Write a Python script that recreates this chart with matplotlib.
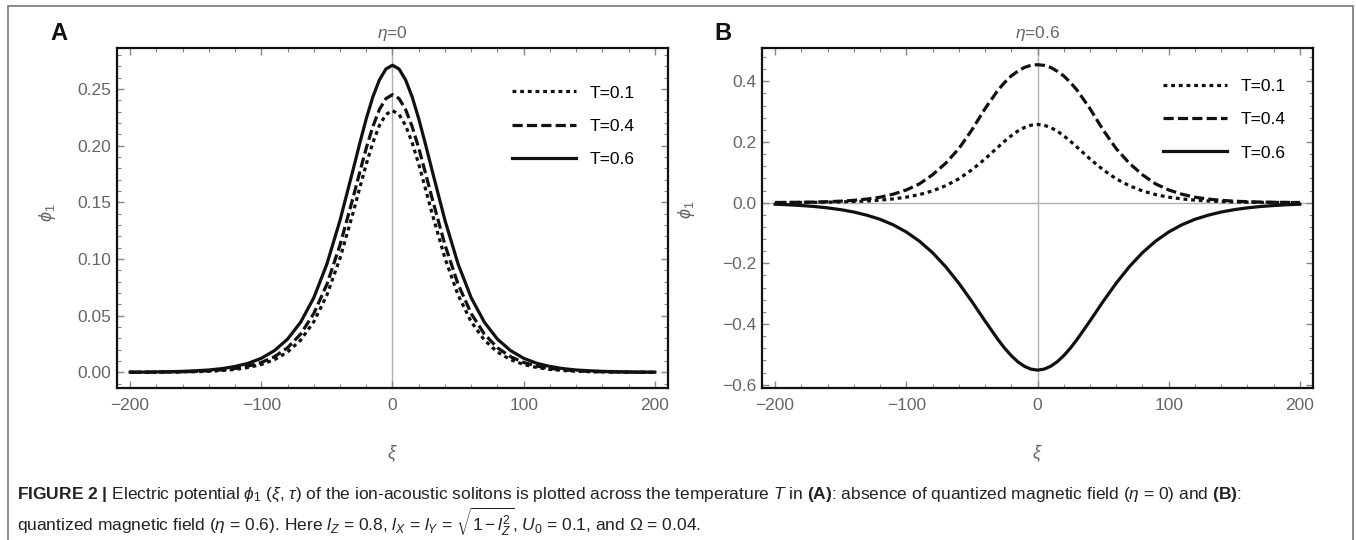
import numpy as np
import matplotlib
matplotlib.use("Agg")
import matplotlib.pyplot as plt
from matplotlib.patches import Rectangle
from matplotlib.ticker import MultipleLocator, FuncFormatter

plt.rcParams['font.family'] = ['Liberation Sans', 'DejaVu Sans']
plt.rcParams['mathtext.fontset'] = 'custom'
plt.rcParams['mathtext.rm'] = 'Liberation Sans'
plt.rcParams['mathtext.it'] = 'Liberation Sans:italic'
plt.rcParams['mathtext.bf'] = 'Liberation Sans:bold'

# xi grid
xi = [-200, -190, -180, -170, -160, -150, -140, -130, -120, -110, -100, -90, -80, -70, -60, -50, -40,
      -30, -25, -20, -15, -10, -5, 0, 5, 10, 15, 20, 25, 30,
      40, 50, 60, 70, 80, 90, 100, 110, 120, 130, 140, 150, 160, 170, 180, 190, 200]

labels = ["T=0.1", "T=0.4", "T=0.6"]

# panel A, eta = 0
phiA_01 = [0.0001, 0.0001, 0.0001, 0.0002, 0.0004, 0.0006, 0.0010, 0.0016, 0.0026, 0.0043, 0.0069, 0.0112, 0.0179, 0.0285, 0.0446, 0.0682, 0.1007,
           0.1410, 0.1626, 0.1837, 0.2026, 0.2178, 0.2276, 0.2310, 0.2276, 0.2178, 0.2026, 0.1837, 0.1626, 0.1410,
           0.1007, 0.0682, 0.0446, 0.0285, 0.0179, 0.0112, 0.0069, 0.0043, 0.0026, 0.0016, 0.0010, 0.0006, 0.0004, 0.0002, 0.0001, 0.0001, 0.0001]
phiA_04 = [0.0001, 0.0001, 0.0002, 0.0003, 0.0005, 0.0008, 0.0014, 0.0022, 0.0034, 0.0055, 0.0087, 0.0138, 0.0217, 0.0338, 0.0519, 0.0777, 0.1124,
           0.1544, 0.1764, 0.1979, 0.2168, 0.2319, 0.2416, 0.2450, 0.2416, 0.2319, 0.2168, 0.1979, 0.1764, 0.1544,
           0.1124, 0.0777, 0.0519, 0.0338, 0.0217, 0.0138, 0.0087, 0.0055, 0.0034, 0.0022, 0.0014, 0.0008, 0.0005, 0.0003, 0.0002, 0.0001, 0.0001]
phiA_06 = [0.0002, 0.0002, 0.0004, 0.0006, 0.0009, 0.0014, 0.0021, 0.0033, 0.0052, 0.0080, 0.0124, 0.0192, 0.0293, 0.0443, 0.0658, 0.0956, 0.1341,
           0.1790, 0.2019, 0.2238, 0.2430, 0.2580, 0.2677, 0.2710, 0.2677, 0.2580, 0.2430, 0.2238, 0.2019, 0.1790,
           0.1341, 0.0956, 0.0658, 0.0443, 0.0293, 0.0192, 0.0124, 0.0080, 0.0052, 0.0033, 0.0021, 0.0014, 0.0009, 0.0006, 0.0004, 0.0002, 0.0002]

# panel B, eta = 0.6
phiB_01 = [0.0004, 0.0005, 0.0008, 0.0012, 0.0017, 0.0025, 0.0038, 0.0056, 0.0084, 0.0124, 0.0182, 0.0267, 0.0388, 0.0558, 0.0787, 0.1084, 0.1442,
           0.1836, 0.2029, 0.2207, 0.2361, 0.2480, 0.2554, 0.2580, 0.2554, 0.2480, 0.2361, 0.2207, 0.2029, 0.1836,
           0.1442, 0.1084, 0.0787, 0.0558, 0.0388, 0.0267, 0.0182, 0.0124, 0.0084, 0.0056, 0.0038, 0.0025, 0.0017, 0.0012, 0.0008, 0.0005, 0.0004]
phiB_04 = [0.0006, 0.0009, 0.0013, 0.0021, 0.0032, 0.0050, 0.0078, 0.0120, 0.0180, 0.0280, 0.0420, 0.0620, 0.0920, 0.1300, 0.1780, 0.2400, 0.3100,
           0.3720, 0.3965, 0.4180, 0.4335, 0.4460, 0.4528, 0.4550, 0.4528, 0.4460, 0.4335, 0.4180, 0.3965, 0.3720,
           0.3100, 0.2400, 0.1780, 0.1300, 0.0920, 0.0620, 0.0420, 0.0280, 0.0180, 0.0120, 0.0078, 0.0050, 0.0032, 0.0021, 0.0013, 0.0009, 0.0006]
phiB_06 = [-0.0051, -0.0069, -0.0094, -0.0126, -0.0171, -0.0230, -0.0308, -0.0414, -0.0548, -0.0730, -0.0966, -0.1269, -0.1648, -0.2111, -0.2653, -0.3258, -0.3900,
           -0.4520, -0.4799, -0.5043, -0.5245, -0.5395, -0.5488, -0.5520, -0.5488, -0.5395, -0.5245, -0.5043, -0.4799, -0.4520,
           -0.3900, -0.3258, -0.2653, -0.2111, -0.1648, -0.1269, -0.0966, -0.0730, -0.0548, -0.0414, -0.0308, -0.0230, -0.0171, -0.0126, -0.0094, -0.0069, -0.0051]

styles = [(0, (1.2, 1.2)), (0, (3.2, 1.3)), '-']
W, H = 1356, 540
gray_txt = '#666666'


def setup(ax, ylim, ymaj, ymin, fmt, title, letter, ylab_xy, legend_xy, zero_h):
    ax.set_xlim(-210, 210)
    ax.set_ylim(*ylim)
    ax.xaxis.set_major_locator(MultipleLocator(100))
    ax.xaxis.set_minor_locator(MultipleLocator(20))
    ax.yaxis.set_major_locator(MultipleLocator(ymaj))
    ax.yaxis.set_minor_locator(MultipleLocator(ymin))
    ax.yaxis.set_major_formatter(FuncFormatter(lambda v, p: (fmt % v).replace('-', '\u2212')))
    ax.tick_params(which='both', direction='in', top=True, right=True, color='#888888',
                   labelcolor=gray_txt, labelsize=12.5)
    ax.tick_params(which='major', length=5, width=1)
    ax.tick_params(which='minor', length=3, width=0.8)
    ax.tick_params(axis='x', pad=7)
    ax.tick_params(axis='y', pad=4)
    for s in ax.spines.values():
        s.set_linewidth(1.6)
        s.set_color('#111111')
    ax.axvline(0, color='#b0b0b0', lw=1, zorder=0)
    if zero_h:
        ax.axhline(0, color='#b0b0b0', lw=1, zorder=0)
    ax.set_xlabel(r'$\xi$', fontsize=13, color=gray_txt)
    ax.xaxis.set_label_coords(0.5, -0.162)
    ax.set_ylabel(r'$\phi_1$', fontsize=13, color=gray_txt)
    ax.yaxis.set_label_coords(*ylab_xy)
    ax.text(0.5, 1.044, title, transform=ax.transAxes, ha='center', va='center',
            fontsize=12.5, color=gray_txt)
    ax.text(letter[0], letter[1], letter[2], transform=ax.figure.transFigure, ha='center',
            va='center', fontsize=17, fontweight='bold', color='#111111')
    ax.legend(loc='upper left', bbox_to_anchor=legend_xy, frameon=False, fontsize=12.5,
              handlelength=3.7, handletextpad=0.75, labelspacing=1.05, borderpad=0,
              borderaxespad=0)


fig = plt.figure(figsize=(W / 100, H / 100), dpi=100)
axA = fig.add_axes([117 / W, (H - 388) / H, 551 / W, 340 / H])
axB = fig.add_axes([762 / W, (H - 388) / H, 551 / W, 340 / H])

for ys, ls, lab in zip([phiA_01, phiA_04, phiA_06], styles, labels):
    axA.plot(xi, ys, color='#111111', lw=2.3, linestyle=ls, label=lab, dash_capstyle='butt')
for ys, ls, lab in zip([phiB_01, phiB_04, phiB_06], styles, labels):
    axB.plot(xi, ys, color='#111111', lw=2.3, linestyle=ls, label=lab, dash_capstyle='butt')

setup(axA, (-0.0138, 0.2862), 0.05, 0.01, '%.2f', r'$\eta$=0', (59 / W, 1 - 34 / H, 'A'),
      (-0.107, 0.515), (0.717, 0.89), False)
setup(axB, (-0.611, 0.51), 0.2, 0.04, '%.1f', r'$\eta$=0.6', (723 / W, 1 - 34 / H, 'B'),
      (-0.118, 0.524), (0.728, 0.91), True)

# outer frame of the figure panel
fig.patches.append(Rectangle((8 / W, -0.05), (1353 - 8) / W, 1.05 - 6 / H, transform=fig.transFigure,
                             fill=False, edgecolor='#777777', lw=1.2))

cap1 = (r'$\mathbf{FIGURE\ 2\ |}$ Electric potential $\phi_1$ ($\xi$, $\tau$) of the ion-acoustic solitons '
        r'is plotted across the temperature $T$ in $\mathbf{(A)}$: absence of quantized magnetic field '
        r'($\eta$ = 0) and $\mathbf{(B)}$:')
cap2 = (r'quantized magnetic field ($\eta$ = 0.6). Here $l_Z$ = 0.8, $l_X$ = $l_Y$ = $\sqrt{1 - l_Z^2}$, '
        r'$U_0$ = 0.1, and $\Omega$ = 0.04.')
fig.text(17 / W, 1 - 495 / H, cap1, ha='left', va='center', fontsize=12.5, color='#222222')
fig.text(17 / W, 1 - 522 / H, cap2, ha='left', va='center', fontsize=12.5, color='#222222')

fig.savefig('out.png', dpi=100)
